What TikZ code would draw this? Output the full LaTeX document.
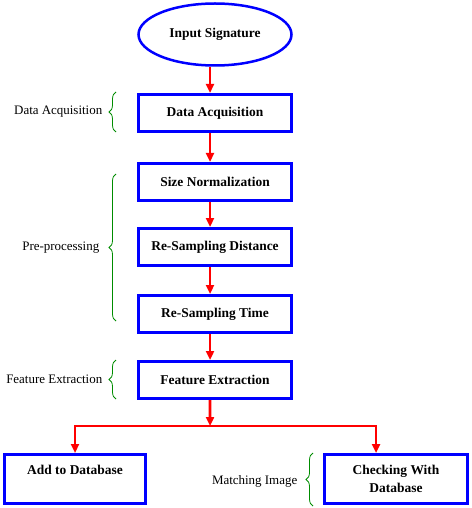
\documentclass[tikz,border=0pt]{standalone}
\usepackage{fontspec}
\setmainfont{Liberation Serif}
\usepackage{tikz}
\usetikzlibrary{shapes.geometric}
\usetikzlibrary{arrows.meta}
\usetikzlibrary{decorations.pathreplacing}
\colorlet{boxblue}{blue}
\colorlet{bracegreen}{green!55!black}

\begin{document}
\begin{tikzpicture}[x=1bp,y=-1bp,
  stepbox/.style={draw=boxblue, line width=3bp, rectangle, minimum width=153bp, minimum height=37bp, inner sep=0pt, font=\fontsize{13.5}{16}\selectfont\bfseries},
  flow/.style={draw=red, line width=2.8bp, -{Triangle[length=9bp,width=8bp]}},
  curly/.style={draw=bracegreen, line width=0.8bp, decoration={brace, amplitude=7bp}, decorate},
  side/.style={font=\fontsize{13}{15}\selectfont, anchor=east}]
\useasboundingbox (0,0) rectangle (472,508);

\node (in) [ellipse, draw=boxblue, line width=2.5bp, minimum width=153bp, minimum height=62bp, inner sep=0pt, font=\fontsize{13.5}{16}\selectfont\bfseries] at (215,34.5) {Input Signature};
\node (da) [stepbox] at (215,113) {Data Acquisition};
\node (sn) [stepbox] at (215,182) {Size Normalization};
\node (rsd) [stepbox] at (215,247) {Re-Sampling Distance};
\node (rst) [stepbox] at (215,314) {Re-Sampling Time};
\node (fe) [stepbox] at (215,380) {Feature Extraction};
\node (adb) [stepbox, minimum width=141bp, minimum height=49bp, text depth=18bp] at (75,479) {Add to Database};
\node (cwd) [stepbox, minimum width=143bp, minimum height=49bp, align=center] at (396,479) {Checking With\\[2pt]Database};
\coordinate (jn) at (210,426);

\draw[flow] ([xshift=-5bp]in.south) -- ([xshift=-5bp]da.north);
\draw[flow] ([xshift=-5bp]da.south) -- ([xshift=-5bp]sn.north);
\draw[flow] ([xshift=-5bp]sn.south) -- ([xshift=-5bp]rsd.north);
\draw[flow] ([xshift=-5bp]rsd.south) -- ([xshift=-5bp]rst.north);
\draw[flow] ([xshift=-5bp]rst.south) -- ([xshift=-5bp]fe.north);
\draw[flow] ([xshift=-5bp]fe.south) -- (jn);
\draw[flow] (jn) -| (adb.north);
\draw[flow] (jn) -| ([xshift=-20bp]cwd.north);

\draw[curly] (116,132) -- (116,92)
node (lda) [side, pos=0.5, xshift=-10bp] {Data Acquisition};
\draw[curly] (116,321) -- (116,174)
node (lpp) [side, pos=0.5, xshift=-13bp] {Pre-processing};
\draw[curly] (116,399) -- (116,360)
node (lfe) [side, pos=0.5, xshift=-10bp] {Feature Extraction};
\draw[curly] (313,506) -- (313,453)
node (lmi) [side, pos=0.5, xshift=-12bp, yshift=-2bp] {Matching Image};
\end{tikzpicture}
\end{document}
